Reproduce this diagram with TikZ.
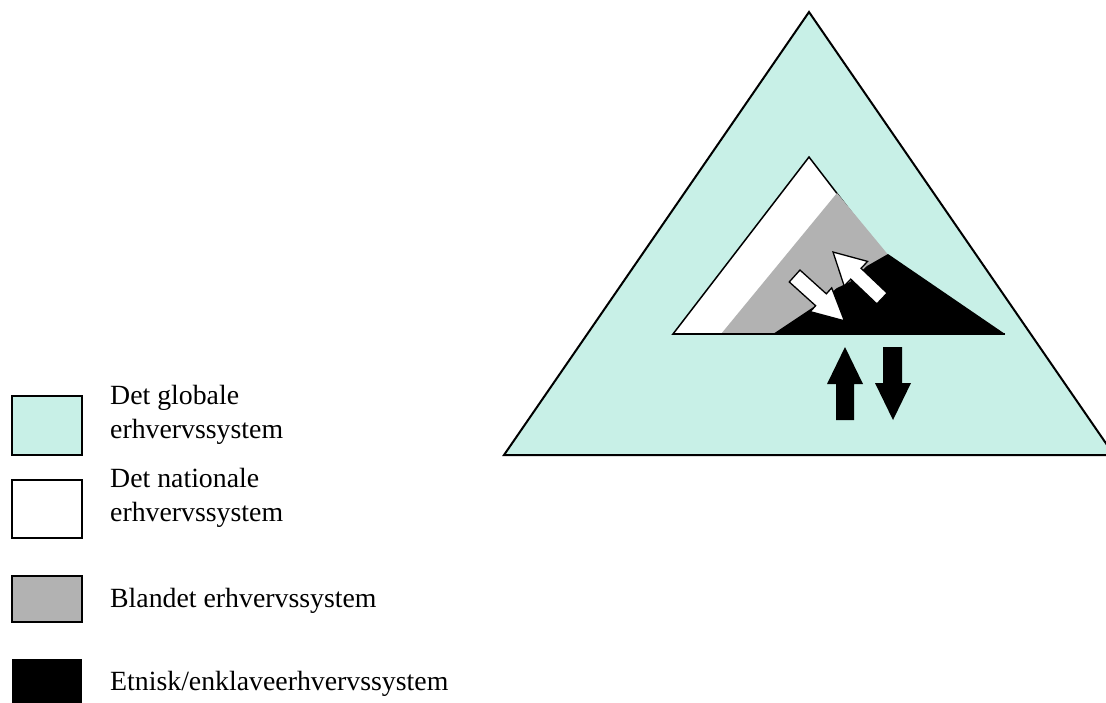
\documentclass[tikz,border=0pt]{standalone}
\usepackage{fontspec}
\setmainfont{Liberation Serif}
\definecolor{globalfill}{RGB}{200,240,231}
\definecolor{mixgray}{RGB}{178,178,178}
\tikzset{
  legbox/.style={draw=black, line width=1.8pt},
  lbl/.style={anchor=base west, inner sep=0pt, font=\fontsize{27.8}{34}\selectfont, align=left},
  whitearrow/.style={draw=black, fill=white, line width=1.3pt, line join=miter},
  blackarrow/.style={fill=black},
  outline/.style={draw=black, line width=2pt, line join=miter},
}
\begin{document}
\begin{tikzpicture}[x=1pt,y=-1pt]
\useasboundingbox (0,0) rectangle (1106,702);
\fill[white] (0,0) rectangle (1106,702);
% outer global triangle
\draw[outline, fill=globalfill] (809,12) -- (1114,455) -- (504,455) -- cycle;
% national (white) triangle
\draw[fill=white, line width=1.5pt, line join=miter] (809,157) -- (945,334) -- (673,334) -- cycle;
% mixed (gray) region
\fill[mixgray] (721,334) -- (837,193) -- (890,257) -- (1005,334) -- cycle;
% ethnic (black) region
\fill[black] (773,334) -- (815,306) -- (837,288) -- (850,282) -- (867,266) -- (888,254) -- (1005,334) -- cycle;
\draw[line width=1.5pt] (673,334) -- (1005,334);
% white arrows
\begin{scope}[shift={(794.6,276)}, rotate=-42]
  \draw[whitearrow] (0,-8) -- (35.5,-8) -- (35.5,-16) -- (67,0) -- (35.5,16) -- (35.5,8) -- (0,8) -- cycle;
\end{scope}
\begin{scope}[shift={(882,298.5)}, rotate=136.5]
  \draw[whitearrow] (0,-7.5) -- (36,-7.5) -- (36,-17) -- (67.5,0) -- (36,17) -- (36,7.5) -- (0,7.5) -- cycle;
\end{scope}
% black arrows
\fill[blackarrow] (836,420) -- (836,384) -- (827,384) -- (845,347) -- (863,384) -- (854,384) -- (854,420) -- cycle;
\fill[blackarrow] (883,347) -- (902,347) -- (902,383) -- (911,383) -- (893,420) -- (875,383) -- (883,383) -- cycle;
% legend
\draw[legbox, fill=globalfill] (12,396) rectangle (82,455);
\draw[legbox, fill=white] (12,480) rectangle (82,538);
\draw[legbox, fill=mixgray] (12,576) rectangle (82,622);
\fill[black] (12,659) rectangle (82,705);
\node[lbl] (t1) at (110,438) {Det globale\\erhvervssystem};
\node[lbl] (t2) at (110,521) {Det nationale\\erhvervssystem};
\node[lbl] (t3) at (110,607) {Blandet erhvervssystem};
\node[lbl] (t4) at (110,690) {Etnisk/enklaveerhvervssystem};
\end{tikzpicture}
\end{document}
